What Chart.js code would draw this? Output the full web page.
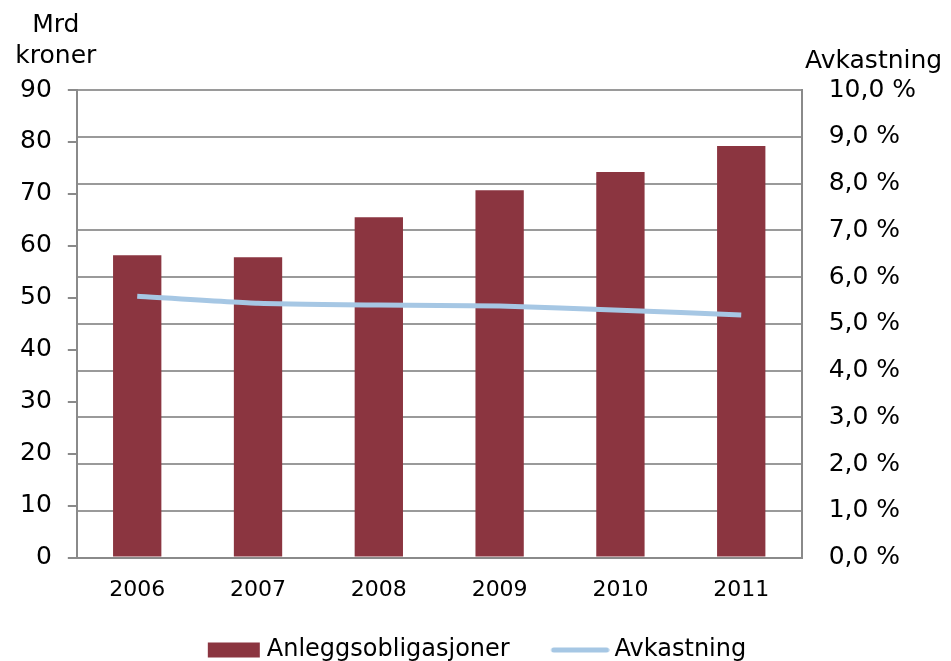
<!DOCTYPE html>
<html>
<head>
<meta charset="utf-8">
<script src="https://cdn.jsdelivr.net/npm/chart.js@4"></script>
<style>
html,body{margin:0;padding:0;background:#fff;overflow:hidden;}
#wrap{width:951px;height:661px;position:relative;overflow:hidden;}
</style>
</head>
<body>
<div id="wrap"><canvas id="c" width="951" height="672"></canvas></div>
<script>
const categories = ['2006', '2007', '2008', '2009', '2010', '2011'];
const anleggsobligasjoner = [58.2, 57.8, 65.5, 70.7, 74.2, 79.2];
const avkastning = [5.59, 5.44, 5.40, 5.38, 5.29, 5.19];
const leftTitle = ['Mrd', 'kroner'];
const rightTitle = 'Avkastning';

const FONT = "'DejaVu Sans', Verdana, sans-serif";
const BAR_COLOR = '#8B3540';
const LINE_COLOR = '#A6C7E4';

// legend swatch images (drawn by Chart.js legend as point styles)
function makeSwatch(kind) {
  const c = document.createElement('canvas');
  c.width = 68; c.height = 16;
  const g = c.getContext('2d');
  if (kind === 'bar') {
    g.fillStyle = BAR_COLOR;
    g.fillRect(14, 0.5, 52, 15);
  } else {
    g.strokeStyle = LINE_COLOR;
    g.lineWidth = 5;
    g.lineCap = 'round';
    g.beginPath();
    g.moveTo(12, 8);
    g.lineTo(65, 8);
    g.stroke();
  }
  return c;
}
const barSwatch = makeSwatch('bar');
const lineSwatch = makeSwatch('line');

const titlePlugin = {
  id: 'axisTitles',
  afterDraw(chart) {
    const ctx = chart.ctx;
    const ca = chart.chartArea;
    ctx.save();
    ctx.fillStyle = '#000';
    ctx.font = '25px ' + FONT;
    ctx.textAlign = 'center';
    ctx.textBaseline = 'alphabetic';
    ctx.fillText(leftTitle[0], ca.left - 21, 32);
    ctx.fillText(leftTitle[1], ca.left - 21, 63);
    ctx.fillText(rightTitle, ca.right + 72, 68);
    ctx.restore();
  }
};

new Chart(document.getElementById('c'), {
  data: {
    labels: categories,
    datasets: [
      {
        type: 'line',
        label: 'Avkastning',
        data: avkastning,
        yAxisID: 'y1',
        borderColor: LINE_COLOR,
        backgroundColor: LINE_COLOR,
        borderWidth: 5,
        pointRadius: 0,
        tension: 0.15,
        order: 1
      },
      {
        type: 'bar',
        label: 'Anleggsobligasjoner',
        data: anleggsobligasjoner,
        yAxisID: 'y',
        backgroundColor: BAR_COLOR,
        borderWidth: 0,
        barPercentage: 0.4,
        categoryPercentage: 1.0,
        order: 2
      }
    ]
  },
  plugins: [titlePlugin],
  options: {
    responsive: false,
    animation: false,
    layout: { padding: { left: 4, right: 8, top: 90, bottom: 0 } },
    plugins: {
      tooltip: { enabled: false },
      legend: {
        position: 'bottom',
        labels: {
          usePointStyle: true,
          pointStyleWidth: 54,
          boxHeight: 15,
          padding: 16,
          color: '#000',
          font: { family: FONT, size: 24 },
          generateLabels(chart) {
            const ds = chart.data.datasets;
            return [
              { text: ds[1].label + '   ', fillStyle: BAR_COLOR, strokeStyle: BAR_COLOR, lineWidth: 0, pointStyle: barSwatch, datasetIndex: 1, fontColor: '#000' },
              { text: ds[0].label, fillStyle: LINE_COLOR, strokeStyle: LINE_COLOR, lineWidth: 0, pointStyle: lineSwatch, datasetIndex: 0, fontColor: '#000' }
            ];
          }
        }
      }
    },
    scales: {
      x: {
        grid: { display: false, drawTicks: false },
        border: { color: '#8a8a8a', width: 2 },
        ticks: { color: '#000', font: { family: FONT, size: 22 }, padding: 19 }
      },
      y: {
        position: 'left',
        min: 0, max: 90,
        ticks: { stepSize: 10, color: '#000', font: { family: FONT, size: 25 }, padding: 16 },
        grid: { drawOnChartArea: false, drawTicks: true, tickLength: 9, color: '#8a8a8a', lineWidth: 2 },
        border: { color: '#8a8a8a', width: 2 }
      },
      y1: {
        position: 'right',
        min: 0, max: 10,
        ticks: {
          stepSize: 1, color: '#000', font: { family: FONT, size: 25 }, padding: 27,
          callback: v => v.toFixed(1).replace('.', ',') + ' %'
        },
        grid: { drawOnChartArea: true, drawTicks: false, color: '#9a9a9a', lineWidth: 2 },
        border: { color: '#8a8a8a', width: 2 }
      }
    }
  }
});
</script>
</body>
</html>
